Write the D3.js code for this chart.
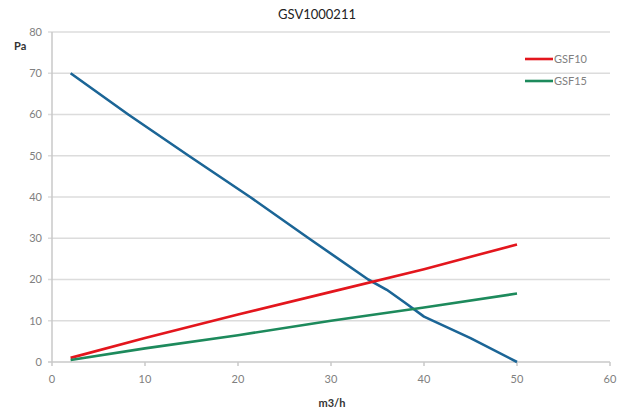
<!DOCTYPE html>
<html>
<head>
<meta charset="utf-8">
<script src="https://cdn.jsdelivr.net/npm/d3@7"></script>
<style>
  body { margin: 0; background: #fff; }
  svg text { font-family: Lato, "Open Sans", sans-serif; }
</style>
</head>
<body>
<div id="chart"></div>
<script>
var title = "GSV1000211";
var xTicks = [0, 10, 20, 30, 40, 50, 60];
var yTicks = [0, 10, 20, 30, 40, 50, 60, 70, 80];

// fan curve (blue)
var fanX = [2, 8.2, 14.7, 21.3, 27.6, 34, 36, 38, 40, 45, 50];
var fanY = [70, 60, 50, 40, 30, 20, 17.5, 14.3, 11, 5.8, 0];
// GSF10 (red)
var gsf10X = [2, 10, 20, 30, 40, 50];
var gsf10Y = [1, 5.8, 11.5, 17, 22.5, 28.5];
// GSF15 (green)
var gsf15X = [2, 10, 20, 30, 40, 50];
var gsf15Y = [0.5, 3.3, 6.5, 10, 13.2, 16.6];

var series = [
    {name: null, xs: fanX, ys: fanY, color: "#1b6596"},
    {name: "GSF10", xs: gsf10X, ys: gsf10Y, color: "#e3161d"},
    {name: "GSF15", xs: gsf15X, ys: gsf15Y, color: "#1d8a5c"}
];

var width = 633, height = 414;
var margin = {top: 32, right: 23, bottom: 52, left: 52};

var svg = d3.select("#chart").append("svg")
    .attr("width", width)
    .attr("height", height);

var x = d3.scaleLinear().domain([0, 60]).range([margin.left, width - margin.right]);
var y = d3.scaleLinear().domain([0, 80]).range([height - margin.bottom, margin.top]);

// title
svg.append("text")
    .attr("x", 317).attr("y", 19)
    .attr("text-anchor", "middle")
    .attr("font-size", 13)
    .attr("fill", "#222")
    .text(title);

// horizontal grid
svg.append("g")
    .selectAll("line")
    .data(yTicks).enter()
    .append("line")
    .attr("x1", margin.left - 4)
    .attr("x2", width - margin.right)
    .attr("y1", function(d){ return y(d); })
    .attr("y2", function(d){ return y(d); })
    .attr("stroke", function(d){ return d === 0 ? "#c8c8c8" : "#dcdcdc"; })
    .attr("stroke-width", 1.5);

// y axis line
svg.append("line")
    .attr("x1", margin.left).attr("x2", margin.left)
    .attr("y1", y(80)).attr("y2", y(0))
    .attr("stroke", "#c8c8c8")
    .attr("stroke-width", 1.5);

// x tick marks
svg.append("g")
    .selectAll("line")
    .data(xTicks).enter()
    .append("line")
    .attr("x1", function(d){ return x(d); })
    .attr("x2", function(d){ return x(d); })
    .attr("y1", y(0))
    .attr("y2", y(0) + 4)
    .attr("stroke", "#c8c8c8")
    .attr("stroke-width", 1.5);

// tick labels
svg.append("g")
    .selectAll("text")
    .data(yTicks).enter()
    .append("text")
    .attr("x", margin.left - 10)
    .attr("y", function(d){ return y(d); })
    .attr("dy", "0.35em")
    .attr("text-anchor", "end")
    .attr("font-size", 11)
    .attr("fill", "#808080")
    .text(function(d){ return d; });

svg.append("g")
    .selectAll("text")
    .data(xTicks).enter()
    .append("text")
    .attr("x", function(d){ return x(d); })
    .attr("y", y(0) + 21)
    .attr("text-anchor", "middle")
    .attr("font-size", 11)
    .attr("fill", "#808080")
    .text(function(d){ return d; });

// axis titles
svg.append("text")
    .attr("x", 14).attr("y", 50)
    .attr("font-size", 11)
    .attr("font-weight", "bold")
    .attr("fill", "#333")
    .text("Pa");

svg.append("text")
    .attr("x", 332).attr("y", 407)
    .attr("text-anchor", "middle")
    .attr("font-size", 11)
    .attr("font-weight", "bold")
    .attr("fill", "#333")
    .text("m3/h");

// lines
var line = d3.line()
    .x(function(d){ return x(d[0]); })
    .y(function(d){ return y(d[1]); });

svg.append("g")
    .selectAll("path")
    .data(series).enter()
    .append("path")
    .attr("d", function(s){ return line(d3.zip(s.xs, s.ys)); })
    .attr("fill", "none")
    .attr("stroke", function(s){ return s.color; })
    .attr("stroke-width", 2.6)
    .attr("stroke-linejoin", "round");

// legend
var legend = svg.append("g")
    .selectAll("g")
    .data(series.filter(function(s){ return s.name; })).enter()
    .append("g")
    .attr("transform", function(d, i){ return "translate(525," + (59 + i * 22) + ")"; });

legend.append("line")
    .attr("x1", 0).attr("x2", 28)
    .attr("stroke", function(d){ return d.color; })
    .attr("stroke-width", 2.6);

legend.append("text")
    .attr("x", 29).attr("dy", "0.35em")
    .attr("font-size", 11)
    .attr("fill", "#808080")
    .text(function(d){ return d.name; });
</script>
</body>
</html>
